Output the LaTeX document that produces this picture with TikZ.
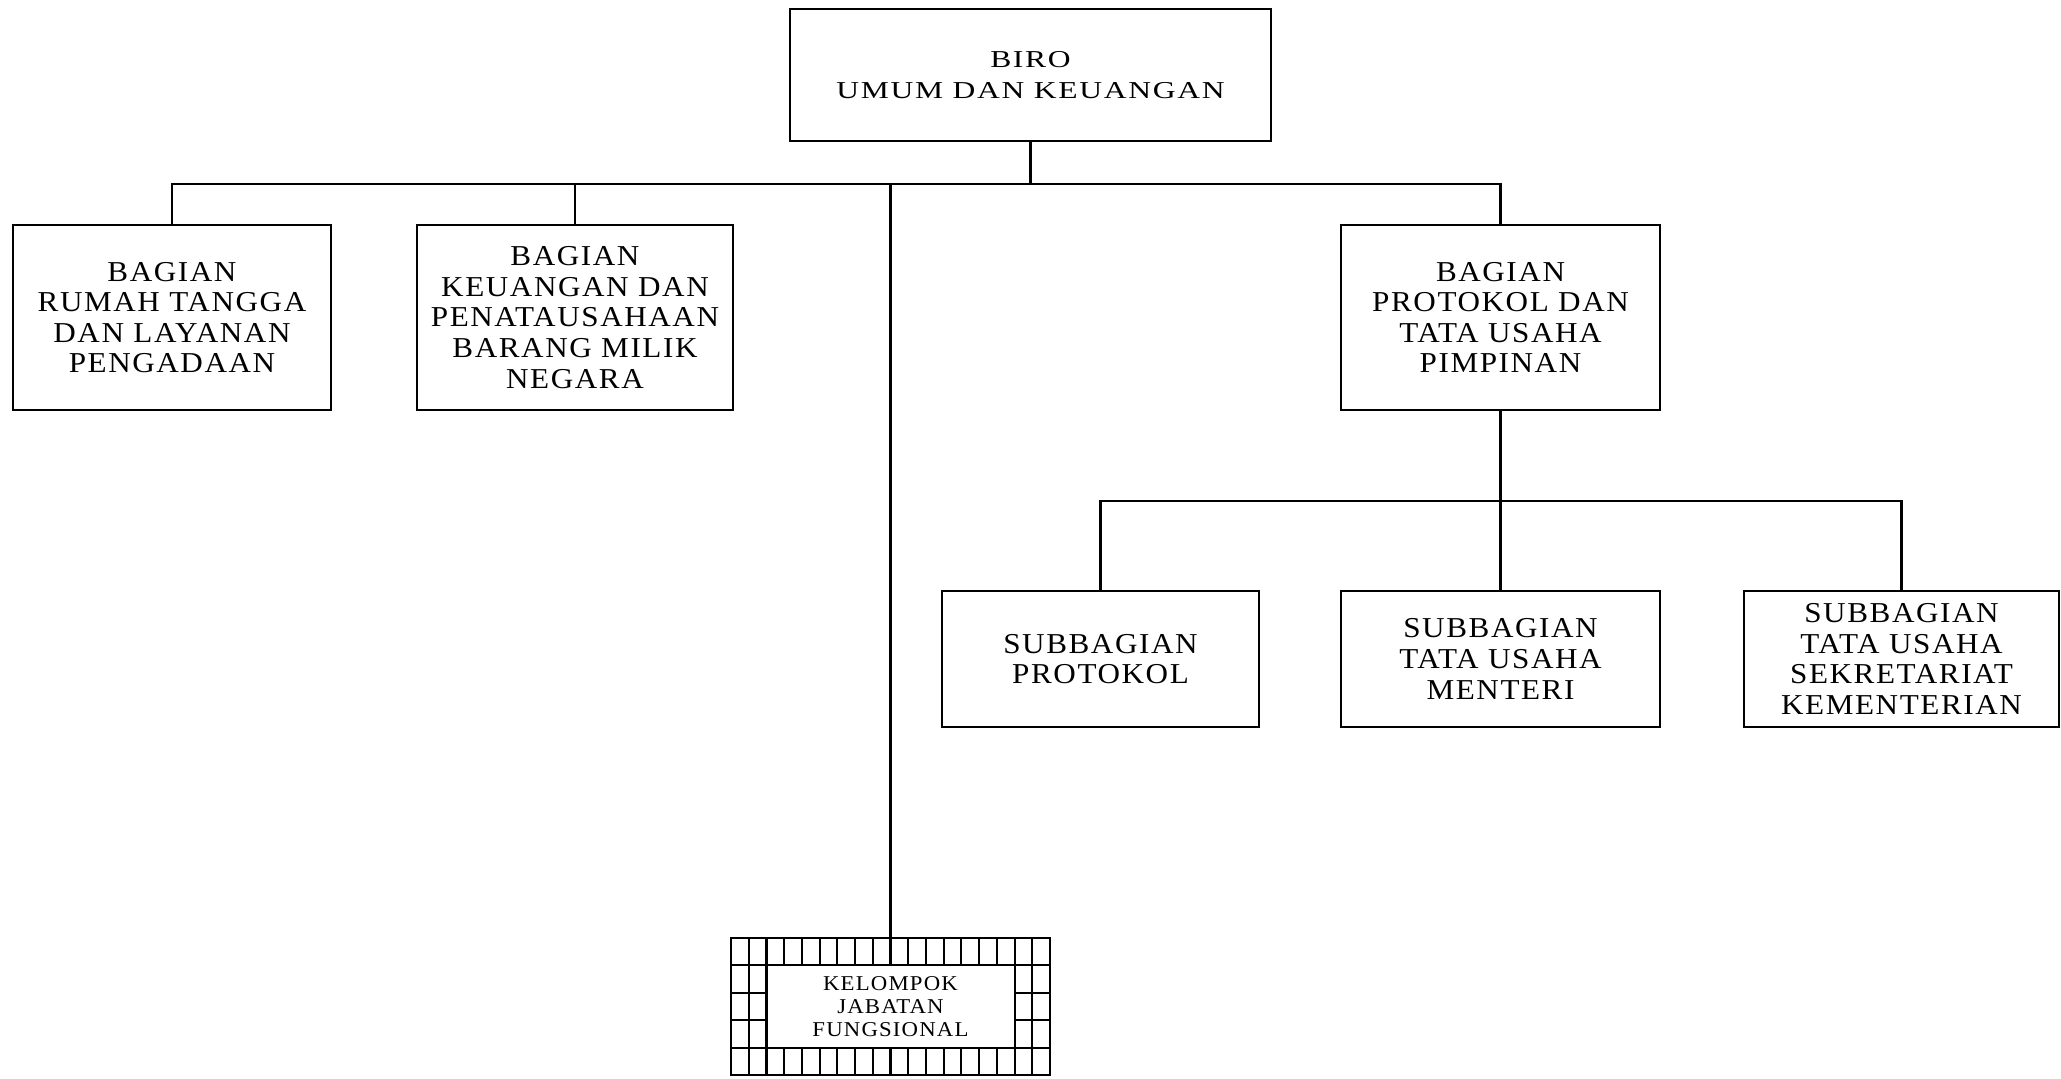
\documentclass[tikz,border=0pt]{standalone}
\usepackage{fontspec}
\setmainfont{Liberation Serif}[FakeStretch=1.08,LetterSpace=5.5]
\newfontfamily\topfont{Liberation Serif}[FakeStretch=1.3,LetterSpace=7]
\begin{document}
\begin{tikzpicture}[x=0.01cm,y=-0.01cm,
  box/.style={draw, line width=0.6pt, align=center, inner sep=0pt, font=\fontsize{8.2}{8.7}\selectfont},
  link/.style={line width=0.6pt},
  trunk/.style={line width=0.95pt},
  gridline/.style={line width=0.6pt}]
\useasboundingbox (0,0) rectangle (2061,1079);
% nodes
\node[box, minimum width=4.81cm, minimum height=1.32cm, font=\topfont\fontsize{6.9}{8.9}\selectfont] (top) at (1030.5,75) {BIRO\\UMUM DAN KEUANGAN};
\node[box, minimum width=3.18cm, minimum height=1.85cm] (b1) at (172,317.5) {BAGIAN\\RUMAH TANGGA\\DAN LAYANAN\\PENGADAAN};
\node[box, minimum width=3.16cm, minimum height=1.85cm] (b2) at (575,317.5) {BAGIAN\\KEUANGAN DAN\\PENATAUSAHAAN\\BARANG MILIK\\NEGARA};
\node[box, minimum width=3.19cm, minimum height=1.85cm] (b3) at (1500.5,317.5) {BAGIAN\\PROTOKOL DAN\\TATA USAHA\\PIMPINAN};
\node[box, minimum width=3.17cm, minimum height=1.36cm] (s1) at (1100.5,659) {SUBBAGIAN\\PROTOKOL};
\node[box, minimum width=3.19cm, minimum height=1.36cm] (s2) at (1500.5,659) {SUBBAGIAN\\TATA USAHA\\MENTERI};
\node[box, minimum width=3.15cm, minimum height=1.36cm] (s3) at (1901.5,659) {SUBBAGIAN\\TATA USAHA\\SEKRETARIAT\\KEMENTERIAN};
\node[box, minimum width=3.19cm, minimum height=1.37cm] (kel) at (890.5,1006.5) {};
\node[align=center, inner sep=0pt, font=\fontsize{6.0}{6.5}\selectfont] (keltext) at (kel.center) {KELOMPOK\\JABATAN\\FUNGSIONAL};
% grid of the functional group box
\foreach \i in {0,...,18} {
  \draw[gridline] ({731+\i*17.722},938) -- ++(0,27.4);
  \draw[gridline] ({731+\i*17.722},1047.6) -- ++(0,27.4);
}
\foreach \i in {0,1,2,16,17,18} {
  \draw[gridline] ({731+\i*17.722},938) -- ++(0,137);
}
\foreach \j in {1,2,3,4} {
  \draw[gridline] (731,{938+\j*27.4}) -- ++(35.444,0);
  \draw[gridline] (1014.552,{938+\j*27.4}) -- ++(35.444,0);
}
\draw[gridline] (731,965.4) -- (1050,965.4);
\draw[gridline] (731,1047.6) -- (1050,1047.6);
% connectors
\coordinate (j1) at (1030.5,184);
\coordinate (j2) at (1500.5,501);
\draw[trunk] (top.south) -- (j1);
\draw[link] (b1.north) -- (b1.north |- j1) -- (b3.north |- j1) -- (b3.north);
\draw[link] (b2.north) -- (b2.north |- j1);
\draw[link] (kel.north) -- (kel.north |- j1);
\draw[trunk] (b3.south) -- (j2);
\draw[link] (s1.north) -- (s1.north |- j2) -- (s3.north |- j2) -- (s3.north);
\draw[link] (s2.north) -- (j2);
\end{tikzpicture}
\end{document}
